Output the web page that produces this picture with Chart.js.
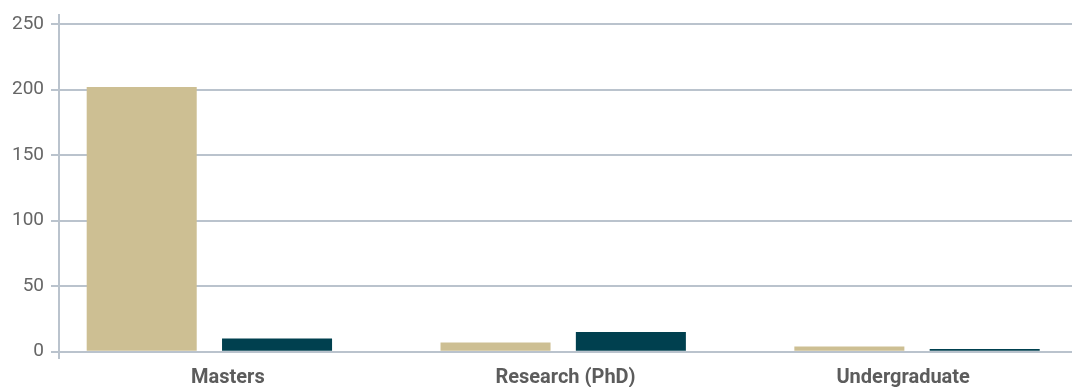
<!DOCTYPE html>
<html>
<head>
<meta charset="utf-8">
<script src="https://cdn.jsdelivr.net/npm/chart.js@4"></script>
<style>
  html, body { margin: 0; padding: 0; background: #ffffff; }
  #wrap { width: 1073px; height: 387px; position: relative; }
</style>
</head>
<body>
<div id="wrap"><canvas id="chart"></canvas></div>
<script>
// Study levels and counts per level for the two series
const categories = ['Masters', 'Research (PhD)', 'Undergraduate'];
const seriesOne = [202, 7, 4];
const seriesTwo = [10, 15, 2];
const yTicks = [0, 50, 100, 150, 200, 250];

const TAN = '#cdbf93';
const TEAL = '#00404f';
const GRID = '#bac3cd';

const toPoints = (vals) => vals.map((v, i) => ({ x: i, y: v }));

new Chart(document.getElementById('chart'), {
  type: 'bar',
  data: {
    labels: categories,
    datasets: [
      { label: 'Series 1', data: toPoints(seriesOne), backgroundColor: TAN, xAxisID: 'xb',
        categoryPercentage: 0.765, barPercentage: 0.813 },
      { label: 'Series 2', data: toPoints(seriesTwo), backgroundColor: TEAL, xAxisID: 'xb',
        categoryPercentage: 0.765, barPercentage: 0.813 }
    ]
  },
  options: {
    responsive: true,
    maintainAspectRatio: false,
    animation: false,
    layout: { padding: { top: 15, right: 1, left: 0, bottom: 0 } },
    plugins: { legend: { display: false }, tooltip: { enabled: false } },
    scales: {
      x: {
        type: 'category',
        position: 'bottom',
        offset: true,
        grid: { display: false },
        border: { display: false },
        ticks: {
          color: '#5c5c5c',
          font: { family: 'Roboto', size: 20, weight: 'bold' },
          padding: 0,
          maxRotation: 0
        },
        afterFit: (s) => { s.height = 29; }
      },
      xb: {
        type: 'linear',
        position: 'bottom',
        display: false,
        min: -0.425,
        max: 2.438,
        offset: false,
        // one tick per category position so the bar ruler spans a full category
        afterBuildTicks: (s) => { s.ticks = categories.map((c, i) => ({ value: i })); }
      },
      y: {
        type: 'linear',
        min: -4.8,
        max: 256.9,
        afterBuildTicks: (s) => { s.ticks = yTicks.map(v => ({ value: v })); },
        grid: { color: GRID, lineWidth: 2, tickLength: 8, drawTicks: true },
        border: { display: true, color: GRID, width: 2 },
        ticks: {
          color: '#666666',
          font: { family: 'Roboto', size: 19, weight: '400' },
          padding: 7
        },
        afterFit: (s) => { s.width = 59; s.paddingTop = 0; s.paddingBottom = 0; }
      }
    }
  }
});
</script>
</body>
</html>
